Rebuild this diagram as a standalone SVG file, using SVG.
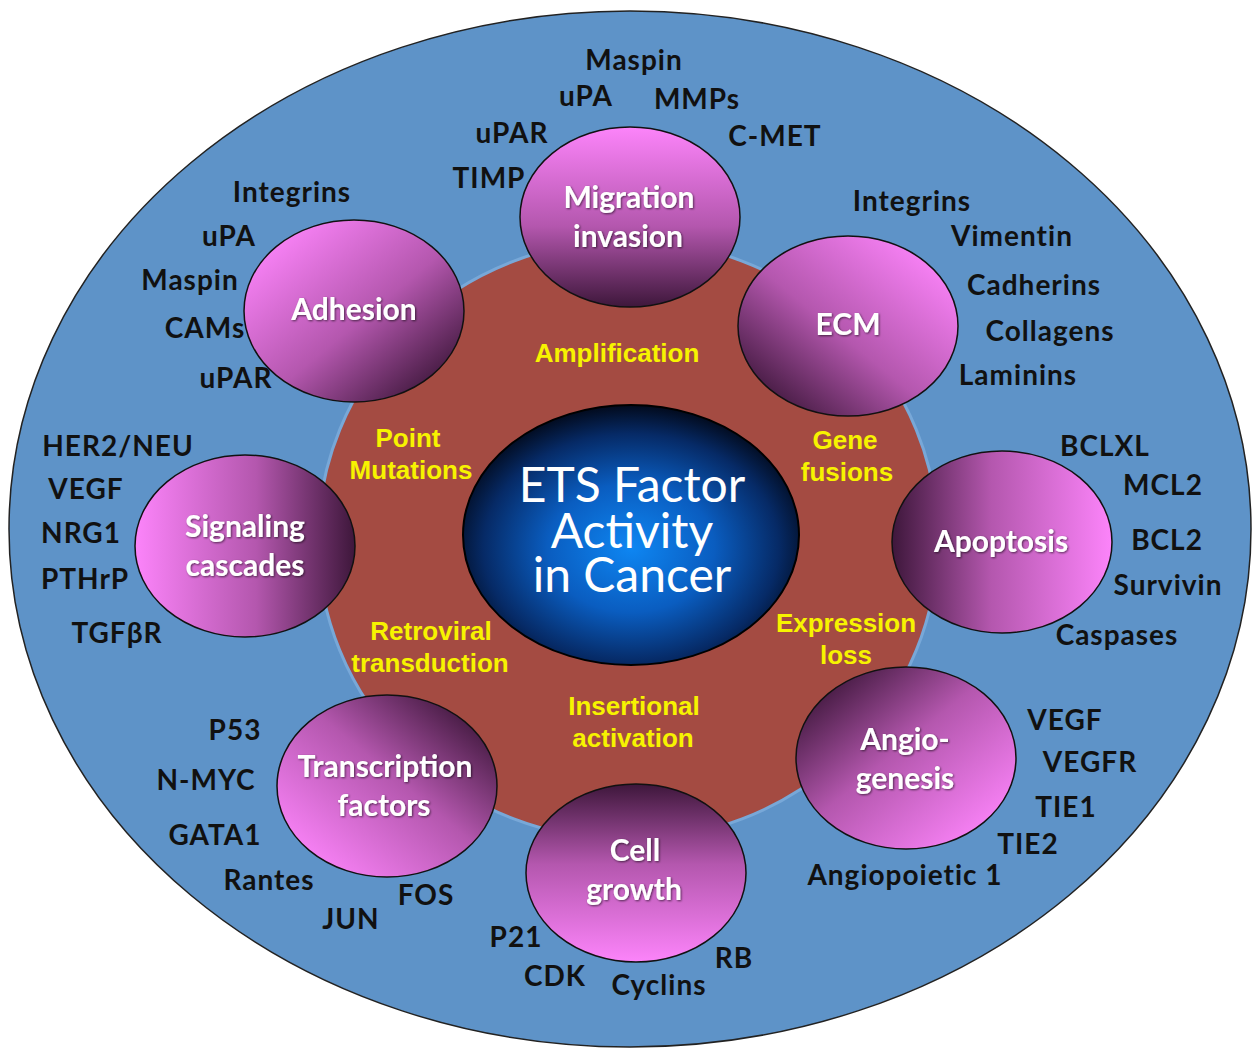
<svg xmlns="http://www.w3.org/2000/svg" width="1253" height="1049" viewBox="0 0 1253 1049">
<defs>
<radialGradient id="core" cx="50%" cy="55%" r="55%">
<stop offset="0" stop-color="#0E86F2"/>
<stop offset="0.45" stop-color="#0A5DC0"/>
<stop offset="0.8" stop-color="#062A66"/>
<stop offset="1" stop-color="#020A1C"/>
</radialGradient>
<linearGradient id="gTop" x1="0" y1="0" x2="0" y2="1"><stop offset="0" stop-color="#FC84FA"/><stop offset="0.55" stop-color="#B457AE"/><stop offset="1" stop-color="#3E173B"/></linearGradient>
<linearGradient id="gBottom" x1="0" y1="1" x2="0" y2="0"><stop offset="0" stop-color="#FC84FA"/><stop offset="0.55" stop-color="#B457AE"/><stop offset="1" stop-color="#3E173B"/></linearGradient>
<linearGradient id="gLeft" x1="0" y1="0" x2="1" y2="0"><stop offset="0" stop-color="#FC84FA"/><stop offset="0.55" stop-color="#B457AE"/><stop offset="1" stop-color="#3E173B"/></linearGradient>
<linearGradient id="gRight" x1="1" y1="0" x2="0" y2="0"><stop offset="0" stop-color="#FC84FA"/><stop offset="0.55" stop-color="#B457AE"/><stop offset="1" stop-color="#3E173B"/></linearGradient>
<linearGradient id="gTL" x1="0.1" y1="0.1" x2="0.9" y2="0.9"><stop offset="0" stop-color="#FC84FA"/><stop offset="0.55" stop-color="#B457AE"/><stop offset="1" stop-color="#3E173B"/></linearGradient>
<linearGradient id="gTR" x1="0.9" y1="0.1" x2="0.1" y2="0.9"><stop offset="0" stop-color="#FC84FA"/><stop offset="0.55" stop-color="#B457AE"/><stop offset="1" stop-color="#3E173B"/></linearGradient>
<linearGradient id="gBL" x1="0.1" y1="0.9" x2="0.9" y2="0.1"><stop offset="0" stop-color="#FC84FA"/><stop offset="0.55" stop-color="#B457AE"/><stop offset="1" stop-color="#3E173B"/></linearGradient>
<linearGradient id="gBR" x1="0.9" y1="0.9" x2="0.1" y2="0.1"><stop offset="0" stop-color="#FC84FA"/><stop offset="0.55" stop-color="#B457AE"/><stop offset="1" stop-color="#3E173B"/></linearGradient>
<filter id="sh" x="-10%" y="-20%" width="120%" height="140%"><feDropShadow dx="1" dy="1" stdDeviation="0.8" flood-color="#000" flood-opacity="0.6"/></filter>
</defs>
<style>
.sat{stroke:#111;stroke-width:1.5}
.satl{font-family:Lato,"Open Sans",sans-serif;font-weight:bold;font-size:30px;fill:#fff;text-anchor:middle;filter:url(#sh)}
.lbl{font-family:Lato,"Liberation Sans",sans-serif;font-weight:bold;font-size:28px;letter-spacing:1px;fill:#111;text-anchor:middle}
.yel{font-family:"Liberation Sans",Arial,sans-serif;font-weight:bold;font-size:26px;fill:#F7F300;text-anchor:middle}
.core{font-family:Lato,"Open Sans",sans-serif;font-size:48px;fill:#fff;text-anchor:middle}
</style>
<rect width="1253" height="1049" fill="#fff"/>
<g id="background">
<ellipse cx="630" cy="529" rx="621" ry="518" fill="#5E93C8" stroke="#222" stroke-width="1.5"/>
<ellipse cx="628" cy="540" rx="310" ry="300" fill="#A44B42" stroke="#78A8D8" stroke-width="3"/>
</g>
<g id="mechanisms">
<text class="yel" x="617" y="362">Amplification</text>
<text class="yel" x="408" y="447">Point</text>
<text class="yel" x="411" y="479">Mutations</text>
<text class="yel" x="845" y="449">Gene</text>
<text class="yel" x="847" y="481">fusions</text>
<text class="yel" x="431" y="640">Retroviral</text>
<text class="yel" x="430" y="672">transduction</text>
<text class="yel" x="846" y="632">Expression</text>
<text class="yel" x="846" y="664">loss</text>
<text class="yel" x="634" y="715">Insertional</text>
<text class="yel" x="633" y="747">activation</text>
</g>
<g id="core-node">
<ellipse cx="631" cy="535" rx="168" ry="130" fill="url(#core)" stroke="#000" stroke-width="2"/>
<text class="core" x="632" y="502">ETS Factor</text>
<text class="core" x="632" y="548">Activity</text>
<text class="core" x="632" y="592">in Cancer</text>
</g>
<g id="connectors"></g>
<g id="migration">
<ellipse class="sat" cx="630" cy="217" rx="110" ry="90" fill="url(#gTop)"/>
<text class="satl" x="629" y="208">Migration</text>
<text class="satl" x="628" y="247">invasion</text>
<text class="lbl" x="634" y="70">Maspin</text>
<text class="lbl" x="586" y="106">uPA</text>
<text class="lbl" x="697" y="109">MMPs</text>
<text class="lbl" x="512" y="143">uPAR</text>
<text class="lbl" x="775" y="146">C-MET</text>
<text class="lbl" x="489" y="188">TIMP</text>
</g>
<g id="adhesion">
<ellipse class="sat" cx="354" cy="311" rx="110" ry="91" fill="url(#gTL)"/>
<text class="satl" x="354" y="320">Adhesion</text>
<text class="lbl" x="292" y="202">Integrins</text>
<text class="lbl" x="229" y="246">uPA</text>
<text class="lbl" x="190" y="290">Maspin</text>
<text class="lbl" x="205" y="338">CAMs</text>
<text class="lbl" x="236" y="388">uPAR</text>
</g>
<g id="ecm">
<ellipse class="sat" cx="848" cy="326" rx="110" ry="90" fill="url(#gTR)"/>
<text class="satl" x="848" y="335">ECM</text>
<text class="lbl" x="912" y="211">Integrins</text>
<text class="lbl" x="1012" y="246">Vimentin</text>
<text class="lbl" x="1034" y="295">Cadherins</text>
<text class="lbl" x="1050" y="341">Collagens</text>
<text class="lbl" x="1018" y="385">Laminins</text>
</g>
<g id="signaling">
<ellipse class="sat" cx="245" cy="546" rx="110" ry="91" fill="url(#gLeft)"/>
<text class="satl" x="245" y="537">Signaling</text>
<text class="satl" x="245" y="576">cascades</text>
<text class="lbl" x="118" y="456">HER2/NEU</text>
<text class="lbl" x="86" y="499">VEGF</text>
<text class="lbl" x="81" y="543">NRG1</text>
<text class="lbl" x="85" y="589">PTHrP</text>
<text class="lbl" x="117" y="643">TGFβR</text>
</g>
<g id="apoptosis">
<ellipse class="sat" cx="1002" cy="542" rx="110" ry="91" fill="url(#gRight)"/>
<text class="satl" x="1001" y="552">Apoptosis</text>
<text class="lbl" x="1105" y="456">BCLXL</text>
<text class="lbl" x="1163" y="495">MCL2</text>
<text class="lbl" x="1167" y="550">BCL2</text>
<text class="lbl" x="1168" y="595">Survivin</text>
<text class="lbl" x="1117" y="645">Caspases</text>
</g>
<g id="transcription">
<ellipse class="sat" cx="387" cy="786" rx="110" ry="91" fill="url(#gBL)"/>
<text class="satl" x="385" y="777">Transcription</text>
<text class="satl" x="384" y="816">factors</text>
<text class="lbl" x="235" y="740">P53</text>
<text class="lbl" x="206" y="790">N-MYC</text>
<text class="lbl" x="215" y="845">GATA1</text>
<text class="lbl" x="269" y="890">Rantes</text>
<text class="lbl" x="426" y="905">FOS</text>
<text class="lbl" x="351" y="929">JUN</text>
</g>
<g id="cell-growth">
<ellipse class="sat" cx="636" cy="873" rx="110" ry="89" fill="url(#gBottom)"/>
<text class="satl" x="635" y="861">Cell</text>
<text class="satl" x="634" y="900">growth</text>
<text class="lbl" x="516" y="947">P21</text>
<text class="lbl" x="555" y="986">CDK</text>
<text class="lbl" x="659" y="995">Cyclins</text>
<text class="lbl" x="734" y="968">RB</text>
</g>
<g id="angiogenesis">
<ellipse class="sat" cx="906" cy="758" rx="110" ry="91" fill="url(#gBR)"/>
<text class="satl" x="905" y="750">Angio-</text>
<text class="satl" x="905" y="789">genesis</text>
<text class="lbl" x="1065" y="730">VEGF</text>
<text class="lbl" x="1090" y="772">VEGFR</text>
<text class="lbl" x="1066" y="817">TIE1</text>
<text class="lbl" x="1028" y="854">TIE2</text>
<text class="lbl" x="905" y="885">Angiopoietic 1</text>
</g>
</svg>
